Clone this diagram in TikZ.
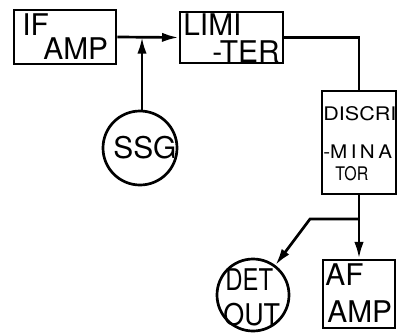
\documentclass[tikz,border=0pt]{standalone}
\usepackage{graphicx}
\usepackage{fontspec}
\setmainfont{TeX Gyre Heros}
\usetikzlibrary{arrows.meta}
\newcommand{\sx}[2]{\scalebox{#1}[1]{#2}}
\begin{document}
\begin{tikzpicture}[x=0.03cm,y=-0.03cm, line width=2.3pt,
  blk/.style={draw, rectangle, inner sep=0pt},
  circ/.style={draw, circle, inner sep=0pt, minimum size=#1},
  bigtxt/.style={font=\fontsize{25.5}{26}\selectfont, inner sep=0pt, anchor=base west},
  smalltxt/.style={font=\fontsize{16}{17}\selectfont, inner sep=0pt, anchor=base west},
  arr/.style={-{Latex[length=5mm,width=2.8mm]}}]
\useasboundingbox (0,0) rectangle (397,333);
% boxes
\node[blk, minimum width=3.06cm, minimum height=1.62cm] (ifamp) at (65,37) {};
\node[blk, minimum width=3.09cm, minimum height=1.53cm] (lim) at (231.5,37.5) {};
\node[blk, minimum width=2.22cm, minimum height=3.09cm] (disc) at (359,142.5) {};
\node[blk, minimum width=2.16cm, minimum height=2.04cm] (afamp) at (359,294) {};
\node[circ=2.22cm] (ssg) at (140,148) {};
\node[circ=2.16cm] (det) at (253,295) {};
% texts
\node[bigtxt] (t1) at (21,35) {IF};
\node[bigtxt] (t2) at (42,59) {AMP};
\node[bigtxt] (t3) at (182,35) {LIMI};
\node[bigtxt] (t4) at (211,62) {-TER};
\node[smalltxt] (t5) at (322,120) {\sx{1.15}{DISCRI}};
\node[smalltxt] (t6) at (322,158) {\sx{1.1}{-M\,I\,N\,A}};
\node[smalltxt] (t7) at (334,180) {\sx{0.85}{TOR}};
\node[bigtxt] (t8) at (112,158) {SSG};
\node[bigtxt] (t9) at (224,290) {\sx{0.8}{DET}};
\node[bigtxt] (t10) at (222,325) {\sx{0.9}{OUT}};
\node[bigtxt] (t11) at (324,285) {AF};
\node[bigtxt] (t12) at (326,322) {AMP};
% connectors
\coordinate (j) at (142,37);
\coordinate (b) at (359,219);
\coordinate (k) at (310,219);
\draw[arr] (ifamp.east) -- (lim.west);
\draw[arr] (ssg.north -| j) -- (j);
\draw (lim.east) -| (disc.north);
\draw[arr] (disc.south) -- (afamp.north);
\draw[arr] (b) -- (k) -- (det);
\end{tikzpicture}
\end{document}
